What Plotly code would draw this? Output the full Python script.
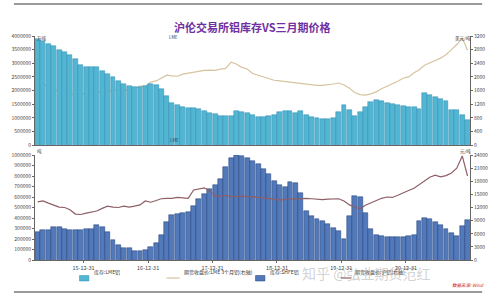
import pandas as pd
import plotly.graph_objects as go

# ---------------- data (monthly, Apr-2015 .. Dec-2021) ----------------
months = pd.date_range("2015-04-01", periods=81, freq="MS") + pd.Timedelta(days=14)

lme_stock = [3.90, 3.82, 3.72, 3.62, 3.50, 3.40, 3.30, 3.15, 2.95, 2.87,
             2.86, 2.86, 2.70, 2.62, 2.50, 2.35, 2.25, 2.15, 2.12, 2.12,
             2.15, 2.25, 2.20, 2.05, 1.80, 1.55, 1.45, 1.39, 1.36, 1.34,
             1.32, 1.25, 1.18, 1.12, 1.08, 1.07, 1.06, 1.26, 1.22, 1.17,
             1.10, 1.04, 1.03, 1.06, 1.10, 1.22, 1.25, 1.26, 1.18, 1.24,
             1.10, 1.02, 0.99, 0.97, 0.95, 0.98, 1.20, 1.45, 1.30, 1.05,
             1.22, 1.40, 1.58, 1.64, 1.62, 1.55, 1.50, 1.46, 1.42, 1.39,
             1.39, 1.33, 1.92, 1.85, 1.77, 1.70, 1.60, 1.30, 1.28, 1.10,
             0.92]  # million tonnes

lme_price = [1850, 1800, 1700, 1650, 1550, 1600, 1500, 1480, 1500, 1500,
             1530, 1530, 1580, 1550, 1620, 1640, 1640, 1600, 1660, 1730,
             1720, 1850, 1880, 1960, 2050, 2030, 2020, 2080, 2110, 2140,
             2160, 2190, 2200, 2190, 2230, 2250, 2430, 2380, 2280, 2230,
             2100, 2050, 1990, 1940, 1900, 1880, 1860, 1850, 1820, 1800,
             1780, 1760, 1750, 1750, 1760, 1790, 1820, 1760, 1670, 1540,
             1480, 1465, 1500, 1560, 1650, 1720, 1800, 1870, 1960, 2000,
             2120, 2200, 2340, 2420, 2480, 2550, 2650, 2800, 2950, 3140,
             2780]  # USD/t

shfe_stock = [265, 285, 290, 315, 310, 295, 286, 286, 288, 298,
              300, 330, 310, 270, 190, 140, 114, 112, 90, 85,
              95, 120, 160, 240, 360, 425, 440, 450, 460, 510,
              580, 630, 675, 710, 770, 890, 975, 1000, 990, 975,
              945, 910, 865, 820, 750, 710, 700, 745, 735, 640,
              470, 420, 395, 370, 340, 305, 280, 200, 420, 610,
              600, 450, 300, 240, 225, 222, 220, 222, 222, 225,
              240, 370, 400, 390, 365, 330, 300, 255, 225, 320,
              380]  # thousand tonnes

shfe_price = [13300, 13500, 13000, 12500, 12100, 12000, 11500, 10500, 10400, 10700,
              11000, 11200, 11800, 12300, 12100, 12000, 12300, 12100, 12300, 12600,
              13500, 13200, 13600, 14000, 14100, 14100, 14300, 14200, 14100, 16000,
              16300, 16500, 15800, 14700, 14500, 14800, 14500, 14600, 14600, 14400,
              14500, 14300, 14200, 14000, 13900, 13700, 13800, 14000, 13900, 14000,
              14100, 14000, 13900, 13800, 13900, 13900, 14000, 13500, 12600, 12100,
              11700, 12500, 13000, 13600, 14100, 14400, 14300, 14800, 15400, 15900,
              16400, 17200, 17900, 18900, 19400, 19000, 19300, 19900, 21000, 23800,
              19200]  # CNY/t

x_ticks = ["2015-12-31", "2016-12-31", "2017-12-31", "2018-12-31", "2019-12-31", "2020-12-31"]
x_ticktext = ["15-12-31", "16-12-31", "17-12-31", "18-12-31", "19-12-31", "20-12-31"]

names = ["库存:LME铝", "期货收盘价:LME 3个月铝(右轴)", "库存:SHFE铝", "期货收盘价:沪铝(右轴)"]

# ---------------- colours ----------------
C_LME_BAR = "#52B5D2"
C_LME_EDGE = "#2C8DB3"
C_SHFE_BAR = "#5279B9"
C_SHFE_EDGE = "#1F3D78"
C_LME_LINE = "#D6C49E"
C_SHFE_LINE = "#8E5F66"
AX = "#666666"
FONT = "Noto Sans CJK SC"

W, H = 500, 300
ML, MR, MT, MB = 22.5, 13, 36, 40
PW, PH = W - ML - MR, H - MT - MB


def px(x):
    return (x - ML) / PW


def py(y):
    return (H - MB - y) / PH


fig = go.Figure()
fig.add_trace(go.Scatter(x=months, y=lme_price, name=names[1], mode="lines",
                         line=dict(color=C_LME_LINE, width=1.2), xaxis="x", yaxis="y"))
fig.add_trace(go.Bar(x=months, y=[v * 1e6 for v in lme_stock], name=names[0],
                     marker=dict(color=C_LME_BAR, line=dict(color=C_LME_EDGE, width=0.5)),
                     xaxis="x", yaxis="y2"))
fig.add_trace(go.Bar(x=months, y=[v * 1e3 for v in shfe_stock], name=names[2],
                     marker=dict(color=C_SHFE_BAR, line=dict(color=C_SHFE_EDGE, width=0.5)),
                     xaxis="x2", yaxis="y3"))
fig.add_trace(go.Scatter(x=months, y=shfe_price, name=names[3], mode="lines",
                         line=dict(color=C_SHFE_LINE, width=1.2), xaxis="x2", yaxis="y4"))

xr = ["2015-03-31", "2021-12-29"]
top_dom = [py(145), 1.0]
bot_dom = [0.0, py(155)]
tickf = dict(family=FONT, size=5, color="#444444")
common_y = dict(showgrid=False, zeroline=False, showline=True, linecolor=AX, linewidth=1,
                ticks="outside", ticklen=2, tickcolor=AX, tickfont=tickf)

fig.update_layout(
    width=W, height=H, margin=dict(l=ML, r=MR, t=MT, b=MB),
    paper_bgcolor="white", plot_bgcolor="white", showlegend=False, bargap=0.0,
    font=dict(family=FONT),
    xaxis=dict(domain=[0, 1], anchor="y2", range=xr, type="date", showticklabels=False,
               showgrid=False, zeroline=False, showline=True, linecolor=AX, linewidth=1,
               tickvals=x_ticks, ticks=""),
    yaxis=dict(domain=top_dom, anchor="x", side="right", range=[0, 3200], dtick=400, **common_y),
    yaxis2=dict(domain=top_dom, anchor="x", overlaying="y", side="left", range=[0, 4000000],
                dtick=500000, tickformat="d", **common_y),
    xaxis2=dict(domain=[0, 1], anchor="y3", range=xr, type="date", tickvals=x_ticks,
                ticktext=x_ticktext, tickfont=dict(family=FONT, size=5.5, color="#444444"),
                showgrid=False, zeroline=False, showline=True, linecolor=AX, linewidth=1,
                ticks="outside", ticklen=2, tickcolor=AX),
    yaxis3=dict(domain=bot_dom, anchor="x2", side="left", range=[0, 1000000], dtick=100000,
                tickformat="d", **common_y),
    yaxis4=dict(domain=bot_dom, anchor="x2", overlaying="y3", side="right", range=[0, 24000],
                dtick=3000, tickformat="d", **common_y),
)

ann = []
ann.append(dict(x=px(255), y=py(17), xref="paper", yref="paper", showarrow=False,
                text="<b>沪伦交易所铝库存VS三月期价格</b>",
                font=dict(family=FONT, size=11, color="#7030A0")))
for (tx, ty, t, anc) in [(23, 33, "万吨", "left"), (23, 151, "吨", "left"),
                         (480, 33, "美元/吨", "center"), (482, 151, "元/吨", "center")]:
    ann.append(dict(x=px(tx), y=py(ty), xref="paper", yref="paper", showarrow=False,
                    text=t, xanchor=anc, font=dict(family=FONT, size=4.5, color="#333333")))
ann.append(dict(x=px(163), y=py(32), xref="paper", yref="paper", showarrow=False,
                text="LME", font=dict(family=FONT, size=4.5, color="#333333")))
ann.append(dict(x=px(164), y=py(140), xref="paper", yref="paper", showarrow=False,
                text="LME", font=dict(family=FONT, size=4.5, color="#1F3D78")))

shapes = []
leg_y = 278
shapes.append(dict(type="rect", xref="paper", yref="paper", x0=px(70), x1=px(80),
                   y0=py(281), y1=py(275.5), fillcolor=C_LME_BAR, line=dict(color=C_LME_EDGE, width=0.5)))
shapes.append(dict(type="line", xref="paper", yref="paper", x0=px(163), x1=px(177),
                   y0=py(leg_y), y1=py(leg_y), line=dict(color=C_LME_LINE, width=1.2)))
shapes.append(dict(type="rect", xref="paper", yref="paper", x0=px(258), x1=px(268),
                   y0=py(281), y1=py(275.5), fillcolor=C_SHFE_BAR, line=dict(color=C_SHFE_EDGE, width=0.5)))
shapes.append(dict(type="line", xref="paper", yref="paper", x0=px(349), x1=px(360),
                   y0=py(leg_y), y1=py(leg_y), line=dict(color=C_SHFE_LINE, width=1.2)))
for (tx, t) in [(83, names[0]), (179, names[1]), (271, names[2]), (362, names[3])]:
    ann.append(dict(x=px(tx), y=py(leg_y), xref="paper", yref="paper", showarrow=False,
                    xanchor="left", text=t, font=dict(family=FONT, size=5, color="#333333")))
shapes.append(dict(type="line", xref="paper", yref="paper", x0=px(0), x1=px(500),
                   y0=py(4), y1=py(4), line=dict(color="#9A9A9A", width=2)))
shapes.append(dict(type="line", xref="paper", yref="paper", x0=px(0), x1=px(500),
                   y0=py(292), y1=py(292), line=dict(color="#9A9A9A", width=2)))
ann.append(dict(x=px(305), y=py(285), xref="paper", yref="paper", showarrow=False,
                xanchor="left", text="知乎 @弘业期货范红",
                font=dict(family=FONT, size=14, color="rgba(140,140,140,0.4)")))
ann.append(dict(x=px(466), y=py(290), xref="paper", yref="paper", showarrow=False,
                xanchor="left", text="<i>数据来源: Wind</i>",
                font=dict(family=FONT, size=4.5, color="#D02020")))

fig.update_layout(annotations=ann, shapes=shapes)
fig.write_html("out.html")
